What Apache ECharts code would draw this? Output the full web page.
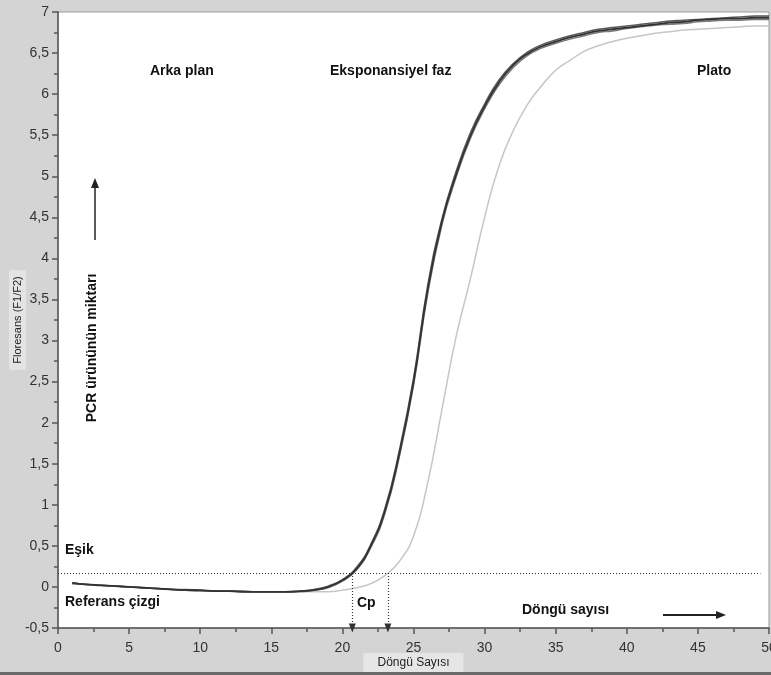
<!DOCTYPE html>
<html>
<head>
<meta charset="utf-8">
<script src="https://cdn.jsdelivr.net/npm/echarts@6/dist/echarts.min.js"></script>
<style>
  html, body { margin: 0; padding: 0; background: #d4d4d4; }
  #main { width: 771px; height: 675px; }
</style>
</head>
<body>
<div id="main"></div>
<script>
// döngü numaraları 1..50
var cycles = [];
for (var i = 1; i <= 50; i++) cycles.push(i);

// koyu eğriler (örnekler)
var curveA = [0.05,0.03,0.02,0.01,0.00,-0.01,-0.02,-0.03,-0.04,-0.04,
              -0.05,-0.05,-0.06,-0.06,-0.06,-0.06,-0.05,-0.04,0.00,0.08,
              0.22,0.50,0.93,1.62,2.49,3.62,4.45,5.02,5.49,5.85,
              6.14,6.35,6.49,6.58,6.64,6.69,6.73,6.77,6.79,6.81,
              6.83,6.85,6.87,6.88,6.90,6.91,6.92,6.92,6.93,6.93];
var curveB = [0.05,0.03,0.02,0.01,0.00,-0.01,-0.02,-0.03,-0.03,-0.04,
              -0.05,-0.05,-0.05,-0.06,-0.06,-0.06,-0.05,-0.03,0.01,0.09,
              0.24,0.52,0.96,1.66,2.54,3.67,4.48,5.06,5.53,5.88,
              6.17,6.37,6.51,6.60,6.66,6.71,6.75,6.79,6.81,6.83,
              6.85,6.87,6.89,6.90,6.91,6.92,6.93,6.94,6.95,6.95];
var curveC = [0.04,0.03,0.02,0.01,0.00,-0.01,-0.02,-0.03,-0.04,-0.05,
              -0.05,-0.05,-0.06,-0.06,-0.06,-0.06,-0.06,-0.04,-0.01,0.07,
              0.21,0.48,0.90,1.58,2.45,3.57,4.41,4.99,5.46,5.82,
              6.11,6.32,6.47,6.56,6.62,6.67,6.71,6.75,6.77,6.80,
              6.82,6.84,6.85,6.86,6.88,6.89,6.90,6.90,6.91,6.91];
// açık gri eğri (geç çıkan örnek)
var curveLight = [0.04,0.03,0.02,0.01,0.00,-0.01,-0.02,-0.03,-0.04,-0.05,
                  -0.05,-0.05,-0.06,-0.06,-0.06,-0.06,-0.06,-0.06,-0.06,-0.04,
                  -0.01,0.04,0.14,0.31,0.62,1.27,2.16,3.05,3.75,4.50,
                  5.12,5.55,5.87,6.10,6.29,6.41,6.52,6.59,6.64,6.68,
                  6.71,6.74,6.76,6.78,6.79,6.80,6.81,6.82,6.83,6.83];

var threshold = 0.17;
var cpValues = [20.7, 23.2];
var xTicks = { min: 0, max: 50, step: 5 };
var yTicks = { min: -0.5, max: 7, step: 0.5 };

function pairs(arr) {
  return cycles.map(function (c, i) { return [c, arr[i]]; });
}

var mychart = echarts.init(document.getElementById('main'));

var lineFont = 'Liberation Sans, Arial, sans-serif';

option = {
  backgroundColor: '#d4d4d4',
  animation: false,
  grid: {
    left: 58, right: 2, top: 12, bottom: 47,
    outerBoundsMode: 'none',
    containLabel: false,
    show: true,
    backgroundColor: '#ffffff',
    borderColor: '#9a9a9a',
    borderWidth: 1
  },
  xAxis: {
    type: 'value',
    min: xTicks.min, max: xTicks.max, interval: xTicks.step,
    name: 'Döngü Sayısı',
    nameLocation: 'middle',
    nameGap: 25,
    nameMoveOverlap: false,
    nameTextStyle: {
      color: '#222', fontSize: 12, fontFamily: lineFont,
      backgroundColor: '#e6e6e6', padding: [4, 14, 3, 14]
    },
    axisLine: { onZero: false, lineStyle: { color: '#555', width: 1.5 } },
    axisTick: { length: 6, lineStyle: { color: '#555', width: 1.5 } },
    minorTick: { show: true, splitNumber: 2, length: 4, lineStyle: { color: '#555', width: 1.5 } },
    axisLabel: { color: '#333', fontSize: 14, fontFamily: lineFont, margin: 13 },
    splitLine: { show: false }
  },
  yAxis: {
    type: 'value',
    min: yTicks.min, max: yTicks.max, interval: yTicks.step,
    name: 'Floresans (F1/F2)',
    nameLocation: 'middle',
    nameGap: 32,
    nameMoveOverlap: false,
    nameTextStyle: {
      color: '#222', fontSize: 11, fontFamily: lineFont,
      backgroundColor: '#e4e4e4', padding: [3, 6]
    },
    axisLine: { onZero: false, lineStyle: { color: '#555', width: 1.5 } },
    axisTick: { length: 6, lineStyle: { color: '#555', width: 1.5 } },
    minorTick: { show: true, splitNumber: 2, length: 4, lineStyle: { color: '#555', width: 1.5 } },
    axisLabel: {
      color: '#333', fontSize: 14, fontFamily: lineFont, margin: 9,
      formatter: function (v) { return String(Math.round(v * 10) / 10).replace('.', ','); }
    },
    splitLine: { show: false }
  },
  series: [
    {
      name: 'açık', type: 'line', data: pairs(curveLight), smooth: true,
      showSymbol: false, lineStyle: { color: '#c6c6c6', width: 1.5 }
    },
    {
      name: 'C', type: 'line', data: pairs(curveC), smooth: true,
      showSymbol: false, lineStyle: { color: '#7a7a7a', width: 1.5 }
    },
    {
      name: 'B', type: 'line', data: pairs(curveB), smooth: true,
      showSymbol: false, lineStyle: { color: '#5a5a5a', width: 1.5 }
    },
    {
      name: 'A', type: 'line', data: pairs(curveA), smooth: true,
      showSymbol: false, lineStyle: { color: '#333', width: 1.8 },
      markLine: {
        silent: true,
        animation: false,
        label: { show: false },
        data: [
          [
            { coord: [0, threshold], symbol: 'none' },
            { coord: [49.4, threshold], symbol: 'none' }
          ]
        ].concat(cpValues.map(function (c) {
          return [
            { coord: [c, threshold], symbol: 'none' },
            { coord: [c, yTicks.min], symbol: 'triangle', symbolSize: [7, 9], symbolRotate: 180 }
          ];
        })),
        lineStyle: { color: '#333', type: [1, 2], width: 1.2 }
      }
    }
  ],
  graphic: [
    { type: 'text', left: 150, top: 64, style: { text: 'Arka plan', font: 'bold 14px ' + lineFont, fill: '#111' } },
    { type: 'text', left: 330, top: 64, style: { text: 'Eksponansiyel faz', font: 'bold 14px ' + lineFont, fill: '#111' } },
    { type: 'text', left: 697, top: 64, style: { text: 'Plato', font: 'bold 14px ' + lineFont, fill: '#111' } },
    { type: 'text', left: 65, top: 543, style: { text: 'Eşik', font: 'bold 14px ' + lineFont, fill: '#111' } },
    { type: 'text', left: 65, top: 595, style: { text: 'Referans çizgi', font: 'bold 14px ' + lineFont, fill: '#111' } },
    { type: 'text', left: 357, top: 596, style: { text: 'Cp', font: 'bold 14px ' + lineFont, fill: '#111' } },
    { type: 'text', left: 522, top: 603, style: { text: 'Döngü sayısı', font: 'bold 14px ' + lineFont, fill: '#111' } },
    {
      type: 'text', x: 92, y: 348, rotation: Math.PI / 2,
      style: { text: 'PCR ürününün miktarı', font: 'bold 14px ' + lineFont, fill: '#111', align: 'center', verticalAlign: 'middle' }
    },
    // oklar
    { type: 'line', shape: { x1: 663, y1: 615, x2: 718, y2: 615 }, style: { stroke: '#222', lineWidth: 2 } },
    { type: 'polygon', shape: { points: [[726, 615], [716, 611], [716, 619]] }, style: { fill: '#222' } },
    { type: 'line', shape: { x1: 95, y1: 240, x2: 95, y2: 186 }, style: { stroke: '#222', lineWidth: 1.5 } },
    { type: 'polygon', shape: { points: [[95, 178], [91, 188], [99, 188]] }, style: { fill: '#222' } },
    // alt çerçeve
    { type: 'rect', shape: { x: 0, y: 672, width: 771, height: 3 }, style: { fill: '#6a6a6a' } }
  ]
};
mychart.setOption(option);
</script>
</body>
</html>
